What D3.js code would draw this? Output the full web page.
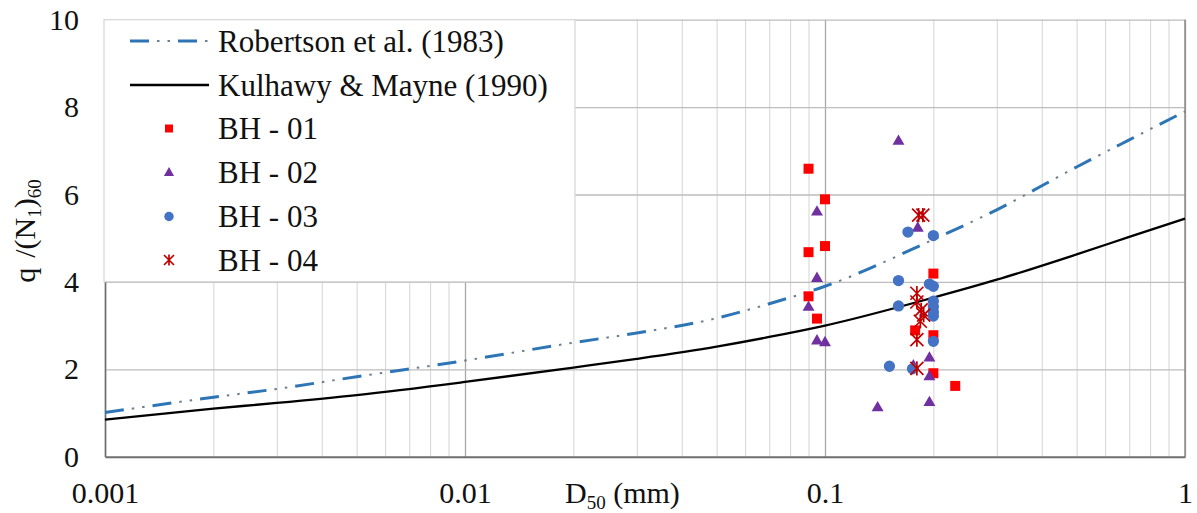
<!DOCTYPE html>
<html><head><meta charset="utf-8">
<script src="https://cdn.jsdelivr.net/npm/d3@7"></script>
<style>
html,body{margin:0;padding:0;background:#fff;}
</style></head>
<body>
<svg id="chart" width="1197" height="513"></svg>
<script>
// ---- data ----
const xTicks = [0.001, 0.01, 0.1, 1];
const xTickLabels = ["0.001", "0.01", "0.1", "1"];
const yTicks = [0, 2, 4, 6, 8, 10];

const robertsonD = [0.001, 0.002, 0.003, 0.005, 0.01, 0.02, 0.03, 0.05, 0.07, 0.1, 0.2, 0.3, 0.5, 0.7, 1];
const robertsonV = [1.01, 1.36, 1.55, 1.83, 2.2, 2.61, 2.83, 3.17, 3.5, 3.9, 4.97, 5.65, 6.63, 7.25, 7.9];
const kulhawyD = [0.001, 0.002, 0.003, 0.005, 0.01, 0.02, 0.03, 0.05, 0.07, 0.1, 0.2, 0.3, 0.5, 0.7, 1];
const kulhawyV = [0.85, 1.1, 1.23, 1.41, 1.71, 2.04, 2.24, 2.52, 2.74, 3.0, 3.64, 4.05, 4.63, 5.03, 5.45];

const bh01D = [0.09, 0.1, 0.09, 0.1, 0.09, 0.095, 0.2, 0.178, 0.2, 0.2, 0.23];
const bh01V = [6.59, 5.89, 4.68, 4.82, 3.67, 3.16, 4.19, 2.89, 2.78, 1.91, 1.62];
const bh02D = [0.16, 0.095, 0.181, 0.095, 0.09, 0.095, 0.1, 0.195, 0.176, 0.195, 0.195, 0.14];
const bh02V = [7.24, 5.62, 5.25, 4.1, 3.44, 2.67, 2.63, 2.28, 2.1, 1.85, 1.26, 1.14];
const bh03D = [0.17, 0.2, 0.16, 0.195, 0.2, 0.16, 0.2, 0.2, 0.2, 0.2, 0.2, 0.151, 0.175];
const bh03V = [5.14, 5.06, 4.03, 3.95, 3.9, 3.45, 3.56, 3.43, 3.31, 3.22, 2.64, 2.07, 2.01];
const bh04D = [0.182, 0.187, 0.18, 0.18, 0.185, 0.188, 0.184, 0.18, 0.18];
const bh04V = [5.53, 5.53, 3.74, 3.54, 3.36, 3.24, 3.1, 2.68, 2.02];

const legendLabels = ["Robertson et al. (1983)", "Kulhawy & Mayne (1990)", "BH - 01", "BH - 02", "BH - 03", "BH - 04"];

// ---- layout ----
const FONT = "'Liberation Serif', 'Times New Roman', serif";
const svg = d3.select("#chart");
const L = 105, R = 1185, T = 19.7, B = 456.7;
const x = d3.scaleLog().domain([0.001, 1]).range([L, R]);
const y = d3.scaleLinear().domain([0, 10]).range([B, T]);

svg.append("rect").attr("width", 1197).attr("height", 513).attr("fill", "#fff");

// minor vertical gridlines
const minor = [];
[0.001, 0.01, 0.1].forEach(dec => { for (let k = 2; k <= 9; k++) minor.push(dec * k); });
svg.append("g").attr("transform", `translate(0,${B})`)
  .call(d3.axisBottom(x).tickValues(minor).tickSize(-(B - T)).tickFormat(""))
  .call(g => g.select(".domain").remove())
  .call(g => g.selectAll("line").attr("stroke", "#d4d4d4").attr("stroke-width", 1));
// major vertical gridlines
svg.append("g").attr("transform", `translate(0,${B})`)
  .call(d3.axisBottom(x).tickValues(xTicks).tickSize(-(B - T)).tickFormat(""))
  .call(g => g.select(".domain").remove())
  .call(g => g.selectAll("line").attr("stroke", "#a8a8a8").attr("stroke-width", 1.3));
// horizontal gridlines
svg.append("g").attr("transform", `translate(${L},0)`)
  .call(d3.axisLeft(y).tickValues(yTicks.slice(1)).tickSize(-(R - L)).tickFormat(""))
  .call(g => g.select(".domain").remove())
  .call(g => g.selectAll("line").attr("stroke", "#bdbdbd").attr("stroke-width", 1.3));

// right edge
svg.append("line").attr("x1", R).attr("x2", R).attr("y1", T).attr("y2", B)
  .attr("stroke", "#8c8c8c").attr("stroke-width", 1.5);

// axes
const xAxis = svg.append("g").attr("transform", `translate(0,${B})`)
  .call(d3.axisBottom(x).tickValues(xTicks).tickSize(0).tickPadding(25)
    .tickFormat((d, i) => xTickLabels[i]));
xAxis.select(".domain").attr("stroke", "#6e6e6e").attr("stroke-width", 2);
xAxis.selectAll("text").attr("font-size", 30).attr("fill", "#111").style("font-family", FONT);

const yAxis = svg.append("g").attr("transform", `translate(${L},0)`)
  .call(d3.axisLeft(y).tickValues(yTicks).tickSize(0).tickPadding(26));
yAxis.select(".domain").attr("stroke", "#6e6e6e").attr("stroke-width", 1.6);
yAxis.selectAll("text").attr("font-size", 30).attr("fill", "#111").style("font-family", FONT);

// curves
const lineGen = d3.line().x(d => x(d[0])).y(d => y(d[1])).curve(d3.curveMonotoneX);
const dashOnly = "19,29";
const dotsOnly = "0,27,2.5,8,2.5,8";
const robPts = robertsonD.map((d, i) => [d, robertsonV[i]]);
svg.append("path").datum(robPts)
  .attr("d", lineGen).attr("fill", "none").attr("stroke", "#2e75b6")
  .attr("stroke-width", 3).attr("stroke-dasharray", dashOnly);
svg.append("path").datum(robPts)
  .attr("d", lineGen).attr("fill", "none").attr("stroke", "#6b7f8f")
  .attr("stroke-width", 2).attr("stroke-dasharray", dotsOnly);
svg.append("path").datum(kulhawyD.map((d, i) => [d, kulhawyV[i]]))
  .attr("d", lineGen).attr("fill", "none").attr("stroke", "#000")
  .attr("stroke-width", 2.3);

// marker drawers
const sq = d3.symbol().type(d3.symbolSquare).size(100)();
const tri = d3.symbol().type(d3.symbolTriangle).size(62)();
const cir = d3.symbol().type(d3.symbolCircle).size(100)();
function drawStar(g, cx, cy, s) {
  const h = s / 2;
  const p = `M${cx - h},${cy - h}L${cx + h},${cy + h}M${cx - h},${cy + h}L${cx + h},${cy - h}M${cx},${cy - h * 1.1}L${cx},${cy + h * 1.1}`;
  g.append("path").attr("d", p).attr("stroke", "#c00000").attr("stroke-width", 1.7).attr("fill", "none");
}

const gPts = svg.append("g");
gPts.selectAll(".bh01").data(bh01D.map((d, i) => [d, bh01V[i]])).join("path")
  .attr("class", "bh01").attr("d", sq).attr("transform", d => `translate(${x(d[0])},${y(d[1])})`).attr("fill", "#ff0000");
gPts.selectAll(".bh02").data(bh02D.map((d, i) => [d, bh02V[i]])).join("path")
  .attr("class", "bh02").attr("d", tri).attr("transform", d => `translate(${x(d[0])},${y(d[1]) + 1})`).attr("fill", "#7030a0");
gPts.selectAll(".bh03").data(bh03D.map((d, i) => [d, bh03V[i]])).join("path")
  .attr("class", "bh03").attr("d", cir).attr("transform", d => `translate(${x(d[0])},${y(d[1])})`).attr("fill", "#4472c4");
bh04D.forEach((d, i) => drawStar(gPts, x(d), y(bh04V[i]), 13));

// legend
const lg = svg.append("g");
lg.append("rect").attr("x", 104).attr("y", T).attr("width", 471).attr("height", 262)
  .attr("fill", "#fff").attr("stroke", "#d9d9d9").attr("stroke-width", 1.3);
const rowY = [41, 85, 128.5, 172, 216.5, 260];
const sx1 = 130, sx2 = 209, mx = 169, tx = 218;
lg.append("line").attr("x1", sx1).attr("x2", sx2).attr("y1", rowY[0]).attr("y2", rowY[0])
  .attr("stroke", "#2e75b6").attr("stroke-width", 3).attr("stroke-dasharray", dashOnly);
lg.append("line").attr("x1", sx1).attr("x2", sx2).attr("y1", rowY[0]).attr("y2", rowY[0])
  .attr("stroke", "#6b7f8f").attr("stroke-width", 2).attr("stroke-dasharray", dotsOnly);
lg.append("line").attr("x1", sx1).attr("x2", sx2).attr("y1", rowY[1]).attr("y2", rowY[1])
  .attr("stroke", "#000").attr("stroke-width", 2.3);
lg.append("path").attr("d", d3.symbol().type(d3.symbolSquare).size(64)()).attr("transform", `translate(${mx},${rowY[2]})`).attr("fill", "#ff0000");
lg.append("path").attr("d", d3.symbol().type(d3.symbolTriangle).size(45)()).attr("transform", `translate(${mx},${rowY[3] + 1})`).attr("fill", "#7030a0");
lg.append("path").attr("d", d3.symbol().type(d3.symbolCircle).size(70)()).attr("transform", `translate(${mx},${rowY[4]})`).attr("fill", "#4472c4");
drawStar(lg, mx, rowY[5], 10);
legendLabels.forEach((t, i) => {
  lg.append("text").attr("x", tx).attr("y", rowY[i]).attr("dy", "0.35em")
    .attr("font-size", 31).attr("fill", "#111").style("font-family", FONT).text(t);
});

// axis titles
const xt = svg.append("text").attr("x", 565).attr("y", 503).attr("font-size", 30)
  .attr("fill", "#111").style("font-family", FONT);
xt.append("tspan").text("D");
xt.append("tspan").attr("font-size", 19).attr("dy", 6).text("50");
xt.append("tspan").attr("dy", -6).text(" (mm)");

const yt = svg.append("text").attr("transform", "translate(24,231) rotate(-90)")
  .attr("text-anchor", "middle").attr("font-size", 30).attr("fill", "#111")
  .style("font-family", FONT).attr("dy", "0.35em");
yt.append("tspan").text("q");
yt.append("tspan").attr("dx", 10).text("/(N");
yt.append("tspan").attr("font-size", 19).attr("dy", 6).text("1");
yt.append("tspan").attr("dy", -6).text(")");
yt.append("tspan").attr("font-size", 19).attr("dy", 6).text("60");
</script>
</body></html>
